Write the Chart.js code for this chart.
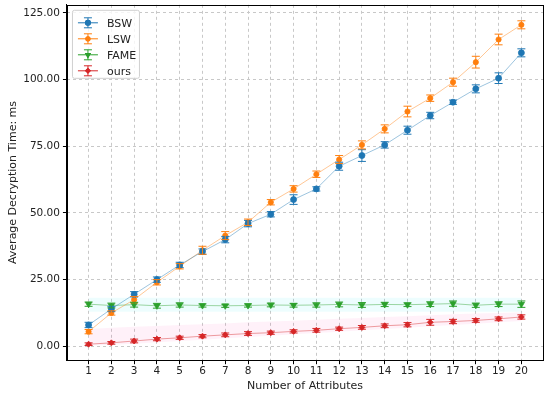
<!DOCTYPE html>
<html>
<head>
<meta charset="utf-8">
<script src="https://cdn.jsdelivr.net/npm/chart.js@4"></script>
<style>
  html, body { margin: 0; padding: 0; background: #fff; }
  #wrap { width: 550px; height: 393px; }
</style>
</head>
<body>
<div id="wrap"><canvas id="myChart" width="550" height="393"></canvas></div>
<script>
const attributes = [1, 2, 3, 4, 5, 6, 7, 8, 9, 10, 11, 12, 13, 14, 15, 16, 17, 18, 19, 20];
const yTicks = [0, 25, 50, 75, 100, 125];

const bsw = [8.0, 14.0, 19.5, 25.0, 30.5, 35.5, 40.0, 46.0, 49.5, 55.0, 59.0, 67.5, 71.5, 75.5, 81.0, 86.5, 91.5, 96.5, 100.5, 110.0];
const bswErr = [1.0, 1.0, 1.0, 1.0, 1.0, 1.0, 1.2, 1.2, 1.0, 1.8, 0.8, 1.5, 2.2, 1.2, 1.5, 1.2, 0.8, 1.5, 2.0, 1.5];
const lsw = [5.5, 12.5, 17.5, 24.0, 30.0, 36.0, 41.5, 46.5, 54.0, 59.0, 64.5, 70.0, 75.5, 81.5, 88.0, 93.0, 99.0, 106.5, 115.0, 120.5];
const lswErr = [0.8, 0.8, 1.2, 1.0, 1.0, 1.5, 1.5, 1.2, 1.0, 1.2, 1.2, 1.5, 1.5, 1.5, 2.0, 1.2, 1.5, 2.2, 2.0, 1.5];
const fame = [15.8, 15.3, 15.6, 15.2, 15.5, 15.3, 15.2, 15.3, 15.5, 15.4, 15.5, 15.7, 15.5, 15.7, 15.6, 15.8, 16.0, 15.4, 15.8, 15.8];
const fameErr = [0.8, 0.9, 0.9, 0.9, 0.8, 0.6, 0.6, 0.6, 0.7, 0.7, 0.8, 0.9, 0.9, 0.8, 0.7, 0.9, 1.0, 0.8, 0.9, 1.2];
const ours = [0.8, 1.3, 2.0, 2.7, 3.2, 3.8, 4.3, 4.8, 5.1, 5.6, 6.0, 6.6, 7.1, 7.7, 8.1, 9.0, 9.3, 9.7, 10.3, 11.0];
const oursErr = [0.5, 0.5, 0.7, 0.6, 0.6, 0.6, 0.7, 0.7, 0.6, 0.6, 0.7, 0.6, 0.7, 0.7, 0.8, 1.1, 0.8, 0.7, 0.7, 0.8];

const fameBandLow = [13.0, 13.0, 13.0, 13.0, 13.0, 13.0, 13.0, 13.0, 13.0, 13.0, 13.0, 13.0, 13.0, 13.0, 13.0, 13.0, 13.0, 13.0, 13.0, 13.0];
const fameBandHigh = [18.2, 18.2, 18.2, 18.2, 18.2, 18.2, 18.2, 18.2, 18.2, 18.2, 18.2, 18.2, 18.2, 18.2, 18.2, 18.2, 18.2, 18.2, 18.2, 18.2];
const oursBandLow = [0.3, 0.6, 1.0, 1.5, 2.0, 2.5, 3.0, 3.5, 4.0, 4.5, 5.0, 5.5, 6.0, 6.5, 7.0, 7.5, 8.0, 8.5, 9.0, 9.5];
const oursBandHigh = [6.5, 7.0, 7.3, 7.6, 8.0, 8.3, 8.6, 9.0, 9.3, 9.6, 10.0, 10.3, 10.6, 11.0, 11.3, 11.6, 12.0, 12.3, 12.5, 12.7];

const FONT = "'DejaVu Sans', sans-serif";
const toPts = (arr) => attributes.map((x, i) => ({ x: x, y: arr[i] }));

function series(label, vals, errs, color, lineColor, pointStyle, radius, rotation) {
    return {
        label: label,
        data: toPts(vals),
        errors: errs,
        borderColor: lineColor,
        backgroundColor: color,
        pointBackgroundColor: color,
        pointBorderColor: color,
        pointStyle: pointStyle,
        pointRadius: radius,
        pointRotation: rotation || 0,
        borderWidth: 0.8,
        fill: false,
        tension: 0
    };
}

function band(vals, color, fillTarget) {
    return {
        label: '_band',
        data: toPts(vals),
        borderWidth: 0,
        pointRadius: 0,
        backgroundColor: color,
        fill: fillTarget,
        tension: 0
    };
}

// vertical error bars with caps, drawn from each dataset's "errors" array
const errorBars = {
    id: 'errorBars',
    afterDatasetsDraw(chart) {
        const ctx = chart.ctx;
        const ys = chart.scales.y;
        chart.data.datasets.forEach((ds, di) => {
            if (!ds.errors) return;
            const meta = chart.getDatasetMeta(di);
            ctx.save();
            ctx.strokeStyle = ds.pointBorderColor;
            ctx.lineWidth = 1;
            meta.data.forEach((pt, i) => {
                const v = ds.data[i].y, e = ds.errors[i];
                const top = ys.getPixelForValue(v + e);
                const bot = ys.getPixelForValue(v - e);
                ctx.beginPath();
                ctx.moveTo(pt.x, top); ctx.lineTo(pt.x, bot);
                ctx.moveTo(pt.x - 4, top); ctx.lineTo(pt.x + 4, top);
                ctx.moveTo(pt.x - 4, bot); ctx.lineTo(pt.x + 4, bot);
                ctx.stroke();
            });
            ctx.restore();
        });
    }
};

// matplotlib-like frame and legend box in the upper left
const frameAndLegend = {
    id: 'frameAndLegend',
    afterDraw(chart) {
        const ctx = chart.ctx;
        const a = chart.chartArea;
        ctx.save();
        ctx.strokeStyle = '#000';
        ctx.lineWidth = 1;
        ctx.strokeRect(Math.round(a.left) + 0.5, Math.round(a.top) + 0.5,
            Math.round(a.right - a.left), Math.round(a.bottom - a.top));

        const items = chart.data.datasets.filter(d => d.errors);
        const bx = a.left + 5, by = a.top + 5, bw = 67, bh = 68;
        ctx.fillStyle = 'rgba(255,255,255,0.8)';
        ctx.strokeStyle = '#d0d0d0';
        ctx.beginPath();
        ctx.roundRect(bx + 0.5, by + 0.5, bw, bh, 2);
        ctx.fill();
        ctx.stroke();

        ctx.font = '11px ' + FONT;
        ctx.textBaseline = 'middle';
        items.forEach((ds, i) => {
            const cy = by + 13 + i * 16;
            const cx = bx + 16;
            ctx.strokeStyle = ds.pointBorderColor;
            ctx.lineWidth = 1;
            ctx.beginPath();
            ctx.moveTo(bx + 6, cy); ctx.lineTo(bx + 26, cy);
            ctx.moveTo(cx, cy - 5); ctx.lineTo(cx, cy + 5);
            ctx.moveTo(cx - 4, cy - 5); ctx.lineTo(cx + 4, cy - 5);
            ctx.moveTo(cx - 4, cy + 5); ctx.lineTo(cx + 4, cy + 5);
            ctx.stroke();
            ctx.fillStyle = ds.pointBackgroundColor;
            Chart.helpers.drawPoint(ctx, {
                pointStyle: ds.pointStyle, radius: ds.pointRadius,
                rotation: ds.pointRotation, borderWidth: 0
            }, cx, cy);
            ctx.fill();
            ctx.fillStyle = '#222';
            ctx.fillText(ds.label, bx + 35, cy + 1);
        });
        ctx.restore();
    }
};

const noEdgePadding = (axis) => { axis.paddingTop = 0; axis.paddingBottom = 0; };

const ctx = document.getElementById('myChart').getContext('2d');

new Chart(ctx, {
    type: 'line',
    data: {
        datasets: [
            band(fameBandHigh, 'rgba(0, 220, 235, 0.07)', '+1'),
            band(fameBandLow, 'rgba(0,0,0,0)', false),
            band(oursBandHigh, 'rgba(255, 60, 170, 0.07)', '+1'),
            band(oursBandLow, 'rgba(0,0,0,0)', false),
            series('BSW', bsw, bswErr, '#1f77b4', 'rgba(31,119,180,0.55)', 'circle', 3),
            series('LSW', lsw, lswErr, '#ff7f0e', 'rgba(255,127,14,0.55)', 'circle', 2.6),
            series('FAME', fame, fameErr, '#2ca02c', 'rgba(44,160,44,0.55)', 'triangle', 3.6, 180),
            series('ours', ours, oursErr, '#d62728', 'rgba(214,39,40,0.55)', 'rectRot', 3)
        ]
    },
    options: {
        responsive: false,
        animation: false,
        layout: { padding: { top: 4, right: 7, left: 7, bottom: 0 } },
        plugins: {
            legend: { display: false },
            tooltip: { enabled: false },
            filler: { drawTime: 'beforeDatasetsDraw' }
        },
        scales: {
            x: {
                type: 'linear',
                min: 0.05,
                max: 20.95,
                afterBuildTicks: (axis) => { axis.ticks = attributes.map(v => ({ value: v })); },
                ticks: { color: '#222', font: { family: FONT, size: 10.5 }, padding: 1, autoSkip: false, maxRotation: 0 },
                grid: { color: '#c8c8c8', tickColor: '#000', tickLength: 4, lineWidth: 1 },
                border: { display: true, color: '#000', dash: [3, 3] },
                title: { display: true, text: 'Number of Attributes', color: '#222', font: { family: FONT, size: 11 }, padding: { top: 1, bottom: 0 } }
            },
            y: {
                min: -5.2,
                max: 128,
                afterFit: noEdgePadding,
                afterBuildTicks: (axis) => { axis.ticks = yTicks.map(v => ({ value: v })); },
                ticks: { color: '#222', font: { family: FONT, size: 10.5 }, padding: 3, callback: (v) => v.toFixed(2) },
                grid: { color: '#c8c8c8', tickColor: '#000', tickLength: 4, lineWidth: 1 },
                border: { display: true, color: '#000', dash: [3, 3] },
                title: { display: true, text: 'Average Decryption Time: ms', color: '#222', font: { family: FONT, size: 11 }, padding: { top: 0, bottom: 0 } }
            }
        }
    },
    plugins: [errorBars, frameAndLegend]
});
</script>
</body>
</html>
